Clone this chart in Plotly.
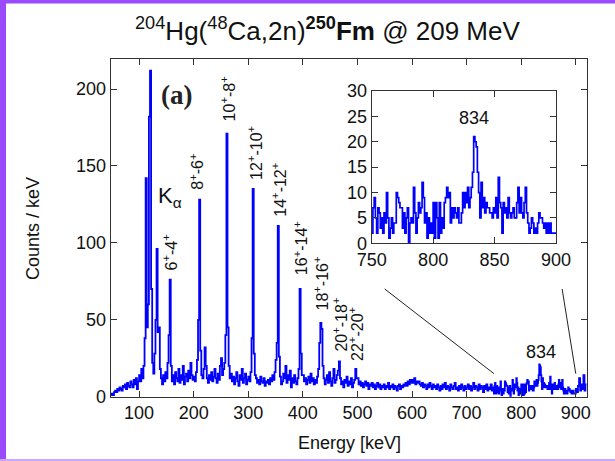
import numpy as np
import plotly.graph_objects as go

# ---------------- data (counts per keV) ----------------
# main spectrum, 2 keV bins, values listed from the segment start energy
seg_048 = [1, 2, 1, 3, 4, 3, 5, 4, 6, 5, 4, 7, 6, 8, 5, 9, 7, 6, 10, 8, 6, 11, 8, 12, 5, 10]
seg_100 = [14, 10, 18, 12, 20, 38, 142, 45, 60, 182, 212, 70, 22, 15, 28, 50, 96, 42, 45, 18,
           12, 8, 14, 10, 16, 12, 22, 40, 76, 20, 10, 14, 8, 16, 12, 10, 18, 9, 14, 11,
           20, 8, 13, 15, 10, 17, 12, 22, 14, 11]
seg_200 = [13, 10, 16, 24, 50, 128, 30, 14, 12, 18, 32, 20, 12, 9, 14, 11, 16, 10, 13, 18,
           12, 9, 15, 11, 20, 25, 14, 18, 22, 40, 171, 45, 20, 12, 15, 10, 13, 8, 12, 16,
           10, 7, 14, 11, 18, 9, 12, 15, 8, 11]
seg_300 = [13, 10, 16, 38, 135, 28, 14, 12, 9, 11, 8, 13, 10, 9, 12, 7, 10, 9, 11, 8,
           12, 10, 14, 11, 16, 24, 35, 111, 26, 13, 8, 10, 15, 12, 20, 9, 14, 11, 17, 6,
           12, 9, 14, 10, 8, 12, 18, 70, 28, 14]
seg_400 = [14, 10, 12, 8, 11, 13, 9, 15, 10, 12, 8, 11, 9, 13, 18, 35, 48, 44, 20, 12,
           8, 11, 14, 9, 16, 10, 7, 12, 18, 9, 11, 14, 17, 23, 12, 8, 10, 6, 11, 9,
           13, 7, 10, 8, 12, 6, 9, 11, 18, 12]
seg_500 = [12, 8, 10, 7, 9, 6, 8, 10, 7, 9, 5, 8, 7, 9, 6, 8, 5, 7, 9, 6,
           8, 5, 7, 6, 8, 5, 7, 6, 9, 5, 7, 6, 8, 5, 7, 6, 4, 7, 8, 5,
           7, 6, 8, 7, 9, 7, 10, 8, 11, 9]
seg_600 = [11, 9, 12, 8, 10, 9, 10, 8, 7, 9, 6, 8, 7, 5, 8, 6, 9, 7, 5, 8,
           6, 7, 5, 8, 6, 4, 7, 5, 8, 6, 9, 5, 7, 6, 4, 8, 6, 5, 7, 9,
           5, 6, 4, 7, 5, 8, 6, 4, 7, 5]
seg_700 = [6, 8, 5, 7, 4, 6, 9, 5, 7, 6, 4, 8, 5, 7, 6, 3, 7, 5, 8, 4, 6, 5, 8, 4, 6]
seg_900 = [5, 3, 7, 12, 4, 8, 5, 14, 4, 8]

# inset spectrum, 1 keV bins from 750 to 900 keV
inset_counts = [2, 7, 9, 5, 2, 7, 6, 3, 5, 2,
                6, 4, 10, 5, 1, 3, 5, 2, 4, 4,
                10, 9, 8, 7, 7, 3, 6, 2, 5, 7,
                0, 4, 5, 4, 11, 6, 2, 5, 8, 6,
                7, 12, 9, 4, 6, 1, 5, 2, 4, 2,
                8, 1, 8, 5, 1, 8, 2, 5, 3, 8,
                9, 11, 9, 10, 4, 7, 5, 7, 6, 5,
                7, 4, 4, 6, 10, 7, 10, 8, 11, 7,
                9, 11, 14, 21, 20, 19, 14, 10, 5, 12,
                7, 9, 6, 8, 7, 7, 6, 6, 5, 7,
                6, 9, 5, 13, 8, 7, 2, 8, 6, 7,
                5, 9, 6, 5, 6, 7, 5, 5, 8, 11,
                6, 9, 6, 5, 8, 11, 6, 4, 2, 3,
                5, 4, 2, 3, 2, 4, 6, 5, 5, 4,
                3, 4, 2, 4, 2, 4, 2, 2, 2, 2,
                2]

# transition labels: (text, label centre energy, label bottom in counts)
trans_text = ["6<sup>+</sup>-4<sup>+</sup>", "8<sup>+</sup>-6<sup>+</sup>", "10<sup>+</sup>-8<sup>+</sup>",
              "12<sup>+</sup>-10<sup>+</sup>", "14<sup>+</sup>-12<sup>+</sup>", "16<sup>+</sup>-14<sup>+</sup>",
              "18<sup>+</sup>-16<sup>+</sup>", "20<sup>+</sup>-18<sup>+</sup>", "22<sup>+</sup>-20<sup>+</sup>"]
trans_x = [157.4, 205.5, 263.4, 312.3, 357.2, 395.6, 434, 468, 498.5]
trans_y = [81, 133, 177.5, 139.6, 116, 78, 55, 28, 21.7]

main_xticks = [100, 200, 300, 400, 500, 600, 700, 800, 900]
main_yticks = [0, 50, 100, 150, 200]
inset_xticks = [750, 800, 850, 900]
inset_yticks = [0, 5, 10, 15, 20, 25, 30]

INSET_LO, INSET_HI = 750, 900
ZOOM_LINE_BASE = 15
ZOOM_LINE_TOP = 70
ZOOM_LINE_TOP_X = [550, 875]

# ---------------- build step histograms ----------------
x_main, y_main = [], []
for start, vals in [(48, seg_048), (100, seg_100), (200, seg_200), (300, seg_300),
                    (400, seg_400), (500, seg_500), (600, seg_600), (700, seg_700)]:
    for i, v in enumerate(vals):
        x_main.append(start + 2 * i)
        y_main.append(v)
for i, v in enumerate(inset_counts[:-1]):
    x_main.append(INSET_LO + i)
    y_main.append(v)
for i, v in enumerate(seg_900):
    x_main.append(900 + 2 * i)
    y_main.append(v)
x_main.append(920)
y_main.append(y_main[-1])

x_ins = [INSET_LO + i for i in range(len(inset_counts))] + [INSET_LO + len(inset_counts)]
y_ins = inset_counts + [inset_counts[-1]]

W, H = 615, 461
FONT = "Liberation Sans, Arial, sans-serif"
BLUE = "#0000ff"
AX = "#333333"


def px_x(p):
    return p / W


def px_y(p):
    return 1 - p / H


fig = go.Figure()
fig.add_trace(go.Scatter(x=x_main, y=y_main, mode="lines", line=dict(color=BLUE, width=1.8, shape="hv"),
                         xaxis="x", yaxis="y", showlegend=False, hoverinfo="skip"))
fig.add_trace(go.Scatter(x=x_ins, y=y_ins, mode="lines", line=dict(color=BLUE, width=1.7, shape="hv"),
                         xaxis="x2", yaxis="y2", showlegend=False, hoverinfo="skip"))

axis_common = dict(showline=True, linecolor=AX, linewidth=1.2, mirror="ticks", ticks="inside",
                   ticklen=6, tickcolor=AX, tickwidth=1.2, showgrid=False, zeroline=False,
                   automargin=False,
                   tickfont=dict(family=FONT, size=18, color="#111"))

fig.update_layout(
    width=W, height=H, autosize=False,
    margin=dict(l=0, r=0, t=0, b=0, pad=0),
    paper_bgcolor="white", plot_bgcolor="white",
    xaxis=dict(domain=[px_x(110.7), px_x(586.7)], range=[48, 920], tickvals=main_xticks,
               anchor="y", **axis_common),
    yaxis=dict(domain=[px_y(396.7), px_y(59)], range=[0, 219.5], tickvals=main_yticks,
               anchor="x", **axis_common),
    xaxis2=dict(domain=[px_x(371.7), px_x(556)], range=[INSET_LO, INSET_HI], tickvals=inset_xticks,
                anchor="y2", **axis_common),
    yaxis2=dict(domain=[px_y(243.3), px_y(91)], range=[0, 30], tickvals=inset_yticks,
                anchor="x2", **axis_common),
)

ann = []
for t, xv, yv in zip(trans_text, trans_x, trans_y):
    ann.append(dict(text=t, x=xv, y=yv, xref="x", yref="y", textangle=-90, showarrow=False,
                    xanchor="center", yanchor="bottom", font=dict(family=FONT, size=16, color="#111")))
ann.append(dict(text="834", x=837, y=29, xref="x", yref="y", showarrow=False,
                xanchor="center", yanchor="middle", font=dict(family=FONT, size=18, color="#111")))
ann.append(dict(text="834", x=833, y=24.6, xref="x2", yref="y2", showarrow=False,
                xanchor="center", yanchor="middle", font=dict(family=FONT, size=18, color="#111")))
ann.append(dict(text="<b>(a)</b>", x=168.5, y=196, xref="x", yref="y", showarrow=False,
                xanchor="center", yanchor="middle",
                font=dict(family="Liberation Serif, Times New Roman, serif", size=27, color="#222")))
ann.append(dict(text="K<sub>α</sub>", x=157.3, y=130, xref="x", yref="y", showarrow=False,
                xanchor="center", yanchor="middle", font=dict(family=FONT, size=22, color="#111")))
ann.append(dict(text="Counts / keV", x=px_x(32.5), y=px_y(228.5), xref="paper", yref="paper",
                textangle=-90, showarrow=False, xanchor="center", yanchor="middle",
                font=dict(family=FONT, size=18, color="#111")))
ann.append(dict(text="Energy [keV]", x=px_x(349), y=px_y(443), xref="paper", yref="paper",
                showarrow=False, xanchor="center", yanchor="middle",
                font=dict(family=FONT, size=18, color="#111")))
ann.append(dict(text="<sup>204</sup>Hg(<sup>48</sup>Ca,2n)<b><sup>250</sup>Fm</b> @ 209 MeV",
                x=px_x(327), y=px_y(30), xref="paper", yref="paper", showarrow=False,
                xanchor="center", yanchor="middle", font=dict(family=FONT, size=26, color="#111")))
fig.update_layout(annotations=ann)

shapes = [
    dict(type="line", xref="x", yref="y", x0=ZOOM_LINE_TOP_X[0], y0=ZOOM_LINE_TOP, x1=INSET_LO, y1=ZOOM_LINE_BASE,
         line=dict(color="#222", width=1)),
    dict(type="line", xref="x", yref="y", x0=ZOOM_LINE_TOP_X[1], y0=ZOOM_LINE_TOP, x1=INSET_HI, y1=ZOOM_LINE_BASE,
         line=dict(color="#222", width=1)),
    dict(type="rect", xref="paper", yref="paper", x0=0, x1=px_x(6), y0=0, y1=1,
         fillcolor="#9a4bff", line=dict(width=0)),
    dict(type="rect", xref="paper", yref="paper", x0=0, x1=1, y0=px_y(3.5), y1=1,
         fillcolor="#9a4bff", line=dict(width=0)),
    dict(type="rect", xref="paper", yref="paper", x0=0, x1=1, y0=0, y1=px_y(459),
         fillcolor="#c9a6ff", line=dict(width=0)),
]
fig.update_layout(shapes=shapes)

fig.write_html("out.html")
